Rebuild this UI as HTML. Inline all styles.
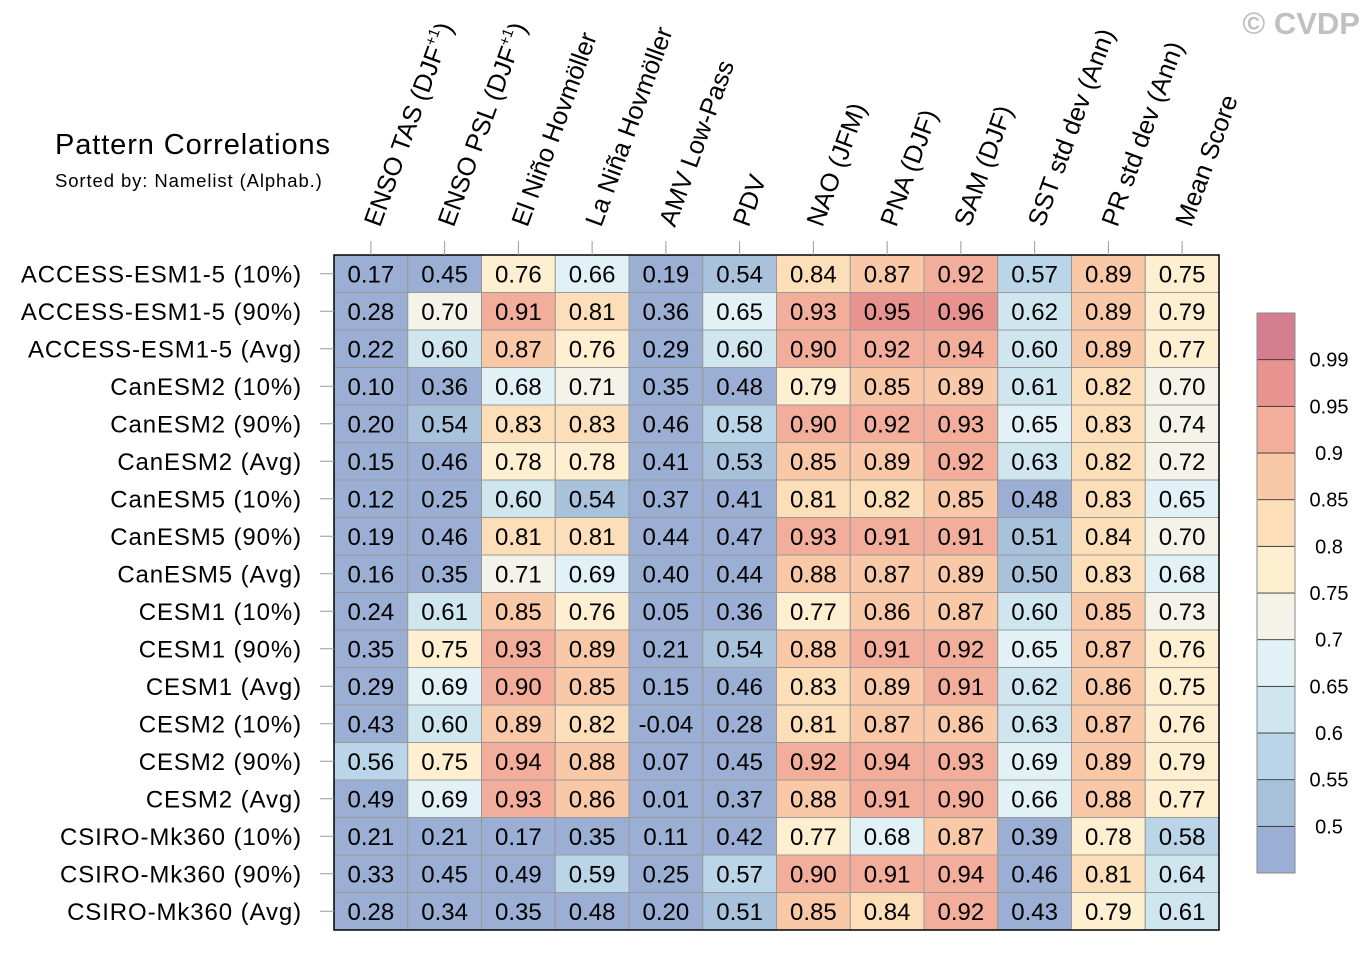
<!DOCTYPE html>
<html><head><meta charset="utf-8"><style>
body{margin:0;background:#fff;font-family:"Liberation Sans",sans-serif;}
svg text{font-family:"Liberation Sans",sans-serif;}
</style></head><body>
<svg id="chart" width="1370" height="951" xmlns="http://www.w3.org/2000/svg">
<text x="1360" y="34" text-anchor="end" font-size="31" font-weight="bold" fill="#c0c0c0">© CVDP</text>
<text x="55" y="154" font-size="29" letter-spacing="0.9">Pattern Correlations</text>
<text x="55" y="187" font-size="18.5" letter-spacing="0.9">Sorted by: Namelist (Alphab.)</text>
<g id="grid"></g><g id="cbar"></g>
</svg>
<script>
const columns=["ENSO TAS (DJF+1)","ENSO PSL (DJF+1)","El Niño Hovmöller","La Niña Hovmöller","AMV Low-Pass","PDV","NAO (JFM)","PNA (DJF)","SAM (DJF)","SST std dev (Ann)","PR std dev (Ann)","Mean Score"];
const models=["ACCESS-ESM1-5 (10%)","ACCESS-ESM1-5 (90%)","ACCESS-ESM1-5 (Avg)","CanESM2 (10%)","CanESM2 (90%)","CanESM2 (Avg)","CanESM5 (10%)","CanESM5 (90%)","CanESM5 (Avg)","CESM1 (10%)","CESM1 (90%)","CESM1 (Avg)","CESM2 (10%)","CESM2 (90%)","CESM2 (Avg)","CSIRO-Mk360 (10%)","CSIRO-Mk360 (90%)","CSIRO-Mk360 (Avg)"];
const values=[
[0.17,0.45,0.76,0.66,0.19,0.54,0.84,0.87,0.92,0.57,0.89,0.75],
[0.28,0.70,0.91,0.81,0.36,0.65,0.93,0.95,0.96,0.62,0.89,0.79],
[0.22,0.60,0.87,0.76,0.29,0.60,0.90,0.92,0.94,0.60,0.89,0.77],
[0.10,0.36,0.68,0.71,0.35,0.48,0.79,0.85,0.89,0.61,0.82,0.70],
[0.20,0.54,0.83,0.83,0.46,0.58,0.90,0.92,0.93,0.65,0.83,0.74],
[0.15,0.46,0.78,0.78,0.41,0.53,0.85,0.89,0.92,0.63,0.82,0.72],
[0.12,0.25,0.60,0.54,0.37,0.41,0.81,0.82,0.85,0.48,0.83,0.65],
[0.19,0.46,0.81,0.81,0.44,0.47,0.93,0.91,0.91,0.51,0.84,0.70],
[0.16,0.35,0.71,0.69,0.40,0.44,0.88,0.87,0.89,0.50,0.83,0.68],
[0.24,0.61,0.85,0.76,0.05,0.36,0.77,0.86,0.87,0.60,0.85,0.73],
[0.35,0.75,0.93,0.89,0.21,0.54,0.88,0.91,0.92,0.65,0.87,0.76],
[0.29,0.69,0.90,0.85,0.15,0.46,0.83,0.89,0.91,0.62,0.86,0.75],
[0.43,0.60,0.89,0.82,-0.04,0.28,0.81,0.87,0.86,0.63,0.87,0.76],
[0.56,0.75,0.94,0.88,0.07,0.45,0.92,0.94,0.93,0.69,0.89,0.79],
[0.49,0.69,0.93,0.86,0.01,0.37,0.88,0.91,0.90,0.66,0.88,0.77],
[0.21,0.21,0.17,0.35,0.11,0.42,0.77,0.68,0.87,0.39,0.78,0.58],
[0.33,0.45,0.49,0.59,0.25,0.57,0.90,0.91,0.94,0.46,0.81,0.64],
[0.28,0.34,0.35,0.48,0.20,0.51,0.85,0.84,0.92,0.43,0.79,0.61]];
const levels=[0.5,0.55,0.6,0.65,0.7,0.75,0.8,0.85,0.9,0.95,0.99];
const levelLabels=["0.5","0.55","0.6","0.65","0.7","0.75","0.8","0.85","0.9","0.95","0.99"];
const palette=["#9BAED3","#A9C2DC","#BAD5E7","#CFE6EF","#E1F1F6","#F3F3E9","#FDEFCF","#FCDFB8","#F9C8A7","#F2AE9A","#E89390","#D47E90"];
const NS="http://www.w3.org/2000/svg";
const X0=334,X1=1219,Y0=255,Y1=930;
const cw=(X1-X0)/columns.length, rh=(Y1-Y0)/models.length;
const xPos=i=>X0+i*cw, yPos=j=>Y0+j*rh;
function color(v){let k=0;while(k<levels.length&&v>=levels[k])k++;return palette[k];}
function mk(t,a,p){const e=document.createElementNS(NS,t);for(const k in a)e.setAttribute(k,a[k]);p.appendChild(e);return e;}
const g=document.getElementById('grid');
values.forEach((row,j)=>row.forEach((v,i)=>{
 const r=mk('rect',{x:xPos(i),y:yPos(j),width:cw,height:rh,fill:color(v),stroke:'#999','stroke-width':1},g);
 
 
 const t=mk('text',{x:xPos(i)+cw/2,y:yPos(j)+rh/2+8.5,'text-anchor':'middle','font-size':24},g);
 t.textContent=v.toFixed(2);
 
 
}));
const border=mk('rect',{x:X0,y:Y0,width:X1-X0,height:Y1-Y0,fill:'none',stroke:'#000','stroke-width':1.5},g);


models.forEach((m,j)=>{
 const cy=yPos(j)+rh/2;
 const tk=mk('line',{x1:320,x2:X0,y1:cy,y2:cy,stroke:'#999'},g);
 
 
 const t=mk('text',{x:302,y:cy+8.5,'text-anchor':'end','font-size':24,'letter-spacing':0.9},g);
 t.textContent=m;
 
 
});
columns.forEach((c,i)=>{
 const cx=xPos(i)+cw/2;
 const tk=mk('line',{x1:cx,x2:cx,y1:241,y2:Y0,stroke:'#999'},g);
 
 
 const t=mk('text',{x:0,y:0,'font-size':25.5,transform:`translate(${cx+9},228) rotate(-70)`},g);
 
 
 if(c.indexOf('+1')>=0){
  t.appendChild(document.createTextNode(c.replace('+1)','')));
  const s=mk('tspan',{dy:-11,'font-size':15},t);s.textContent='+1';
  const s2=mk('tspan',{dy:11},t);s2.textContent=')';
 } else t.textContent=c;
});
const cb=document.getElementById('cbar');
const CB0=313,CB1=873,bh=(CB1-CB0)/palette.length;
palette.forEach((p,k)=>{
 const y=CB1-(k+1)*bh;
 const r=mk('rect',{x:1257,y:y,width:38,height:bh,fill:p,stroke:'#333','stroke-width':0.8},cb);
 
 
});
levelLabels.forEach((l,k)=>{
 const y=CB1-(k+1)*bh;
 const t=mk('text',{x:1329,y:y+7,'text-anchor':'middle','font-size':20},cb);
 t.textContent=l;
 
 
});
const cbb=mk('rect',{x:1257,y:CB0,width:38,height:CB1-CB0,fill:'none',stroke:'#888','stroke-width':1},cb);


</script>
</body></html>
